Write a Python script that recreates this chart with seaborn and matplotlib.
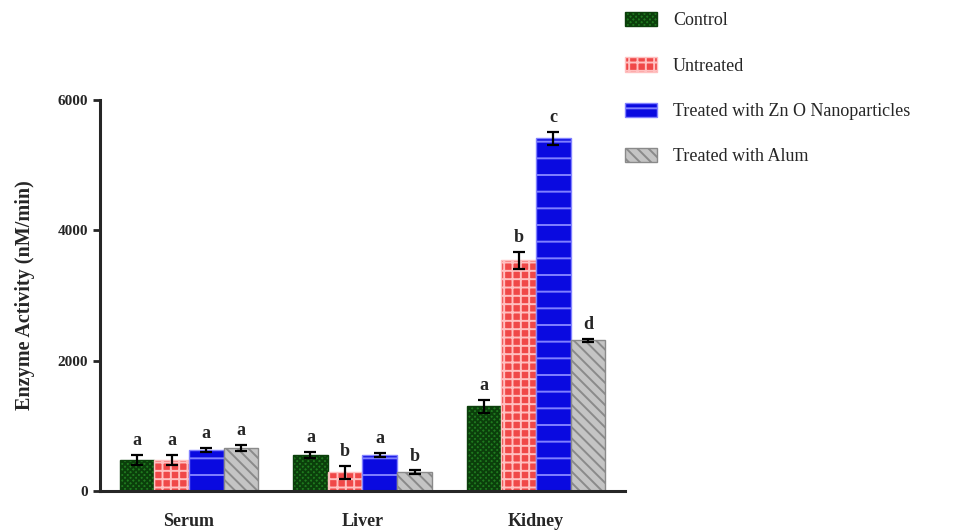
import pandas as pd
import numpy as np
import matplotlib
matplotlib.use("Agg")
import matplotlib.pyplot as plt
from matplotlib.container import BarContainer
import seaborn as sns

tissues = ["Serum", "Liver", "Kidney"]
groups = ["Control", "Untreated", "Treated with Zn O Nanoparticles", "Treated with Alum"]

# mean enzyme activity per group, in tissue order
control = [480, 550, 1300]
untreated = [480, 290, 3540]
treated_zno = [630, 550, 5415]
treated_alum = [660, 290, 2310]

# standard errors
control_err = [80, 50, 100]
untreated_err = [80, 100, 130]
treated_zno_err = [30, 30, 100]
treated_alum_err = [50, 25, 30]

# significance letters
control_sig = ["a", "a", "a"]
untreated_sig = ["a", "b", "b"]
treated_zno_sig = ["a", "a", "c"]
treated_alum_sig = ["a", "b", "d"]

means = [control, untreated, treated_zno, treated_alum]
errs = [control_err, untreated_err, treated_zno_err, treated_alum_err]
sigs = [control_sig, untreated_sig, treated_zno_sig, treated_alum_sig]

rows = []
for g, vals in zip(groups, means):
    for t, v in zip(tissues, vals):
        rows.append({"tissue": t, "group": g, "activity": v})
df = pd.DataFrame(rows)

sns.set_style("ticks")
plt.rcParams["font.family"] = ["Liberation Serif", "DejaVu Serif"]
plt.rcParams["hatch.linewidth"] = 1.4

fills = ["#1f7a1f", "#f04848", "#0a0ae0", "#c4c4c4"]
hatch_cols = ["#0b3f0b", "#ffc0c0", "#8080ff", "#8a8a8a"]
hatches = ["xxxxxx", "++", "-", "\\\\\\"]

fig = plt.figure(figsize=(9.57, 5.31), dpi=100)
ax = fig.add_axes([0.1045, 0.0753, 0.5485, 0.7364])

sns.barplot(data=df, x="tissue", y="activity", hue="group", order=tissues,
            hue_order=groups, palette=fills, errorbar=None, width=0.8,
            saturation=1, ax=ax)

bar_conts = [c for c in ax.containers if isinstance(c, BarContainer)]
handles = []
for i, cont in enumerate(bar_conts):
    for j, bar in enumerate(cont.patches):
        bar.set_hatch(hatches[i])
        bar.set_edgecolor(hatch_cols[i])
        bar.set_linewidth(1.0)
        cx = bar.get_x() + bar.get_width() / 2
        h = bar.get_height()
        ax.errorbar(cx, h, yerr=errs[i][j], color="black", capsize=4,
                    elinewidth=1.6, capthick=1.6, zorder=5)
        ax.text(cx, h + errs[i][j] + 90, sigs[i][j], ha="center", va="bottom",
                fontsize=13, fontweight="bold")
    handles.append(cont.patches[0])

if ax.get_legend() is not None:
    ax.get_legend().remove()

fig.legend(handles, groups, loc="upper left", bbox_to_anchor=(0.653, 0.978),
           frameon=False, fontsize=13, handlelength=1.75, handleheight=0.85,
           labelspacing=1.55, handletextpad=0.9, borderpad=0, borderaxespad=0)

ax.set_xlim(-0.513, 2.513)
ax.set_ylim(0, 6000)
ax.set_yticks([0, 2000, 4000, 6000])
ax.set_xlabel("")
ax.set_ylabel("Enzyme Activity (nM/min)", fontsize=14.5, fontweight="bold", labelpad=16)
ax.tick_params(axis="y", labelsize=11, width=2, length=5)
ax.tick_params(axis="x", labelsize=13, length=0, pad=16)
for lab in ax.get_xticklabels() + ax.get_yticklabels():
    lab.set_fontweight("bold")
sns.despine(ax=ax)
ax.spines["left"].set_linewidth(2.2)
ax.spines["bottom"].set_linewidth(2.2)

fig.savefig("out.png", dpi=100)
